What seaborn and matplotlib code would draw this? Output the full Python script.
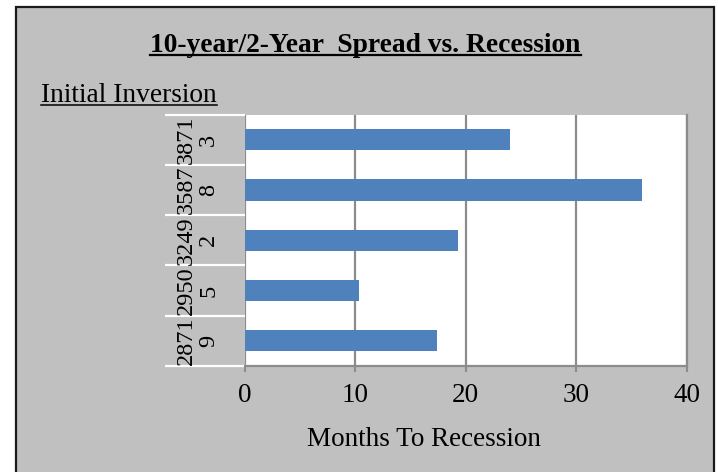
import matplotlib
matplotlib.use("Agg")
import matplotlib.pyplot as plt
import seaborn as sns
import pandas as pd
from matplotlib.patches import Rectangle
from matplotlib.lines import Line2D

# ---- data ----
categories = ["3871\n3", "3587\n8", "3249\n2", "2950\n5", "2871\n9"]
months_to_recession = [24, 36, 19.3, 10.4, 17.4]
x_ticks = [0, 10, 20, 30, 40]
title_text = "10-year/2-Year  Spread vs. Recession"
subtitle_text = "Initial Inversion"
xlabel_text = "Months To Recession"

plt.rcParams['font.family'] = ['Liberation Serif', 'DejaVu Serif']

W, H = 718, 472
fig = plt.figure(figsize=(W / 100, H / 100), dpi=100)
fig.patch.set_facecolor("white")

def fx(px):
    return px / W

def fy(py):
    return 1 - py / H

# gray chart-area box with dark border
fig.add_artist(Rectangle((fx(16), fy(480)), fx(714) - fx(16), fy(7) - fy(480),
                         transform=fig.transFigure, facecolor="#C0C0C0",
                         edgecolor="#1a1a1a", linewidth=1.6, zorder=0))

ax_left, ax_right, ax_top, ax_bottom = 244.5, 686.5, 114.5, 366
ax = fig.add_axes([fx(ax_left), fy(ax_bottom), fx(ax_right) - fx(ax_left), fy(ax_top) - fy(ax_bottom)])
ax.set_facecolor("white")

df = pd.DataFrame({"cat": categories, "months": months_to_recession})
sns.barplot(data=df, x="months", y="cat", orient="h", color="#4F81BD",
            saturation=1, width=0.42, ax=ax, zorder=3)

ax.set_xlim(0, 40)
ax.set_ylim(len(categories) - 0.5, -0.5)

# vertical grid
ax.set_xticks(x_ticks)
ax.set_xticklabels([str(t) for t in x_ticks], fontsize=19.5)
ax.xaxis.grid(True, color="#8c8c8c", linewidth=1.6, zorder=1)
ax.set_axisbelow(True)
ax.tick_params(axis="x", direction="out", length=4, width=1.5, color="#8c8c8c",
               pad=8, labelcolor="black")

# y axis: white separator lines at category boundaries, labels at centers
bounds = [i - 0.5 for i in range(len(categories) + 1)]
ax.set_yticks(bounds)
ax.set_yticklabels([""] * len(bounds))
ax.tick_params(axis="y", which="major", length=57.6, width=1.6, color="white", direction="out")
ax.set_yticks(range(len(categories)), minor=True)
ax.set_yticklabels(categories, minor=True, rotation=90, fontsize=17.5,
                   va="center", ha="center", linespacing=1.1)
ax.tick_params(axis="y", which="minor", length=0, pad=34)

for s in ["top", "left"]:
    ax.spines[s].set_visible(False)
ax.spines["bottom"].set_color("#8c8c8c")
ax.spines["bottom"].set_linewidth(1.6)
ax.spines["right"].set_color("#8c8c8c")
ax.spines["right"].set_linewidth(1.6)

ax.set_ylabel("")
ax.set_xlabel(xlabel_text, fontsize=19.5)
ax.xaxis.label.set_va("center")
ax.xaxis.set_label_coords((424 - ax_left) / (ax_right - ax_left), -(440 - ax_bottom) / (ax_bottom - ax_top))

# title and subtitle with underline
renderer = fig.canvas.get_renderer()

def fit_text(x, y, s, target_w, size, ha, weight):
    t = fig.text(x, y, s, ha=ha, va="baseline", fontsize=size, fontweight=weight)
    for _ in range(3):
        w = t.get_window_extent(renderer).width
        size = size * target_w / w
        t.set_fontsize(size)
    return t

title = fit_text(fx(365.5), fy(52), title_text, 431, 18, "center", "bold")
sub = fit_text(fx(41), fy(102), subtitle_text, 176, 16, "left", "normal")

def underline(t, y_px, lw):
    bb = t.get_window_extent(renderer)
    fig.add_artist(Line2D([bb.x0 / W, bb.x1 / W], [fy(y_px), fy(y_px)],
                          transform=fig.transFigure, color="black", linewidth=lw))

underline(title, 55, 1.6)
underline(sub, 105, 1.1)

fig.savefig("out.png", dpi=100, facecolor="white")
